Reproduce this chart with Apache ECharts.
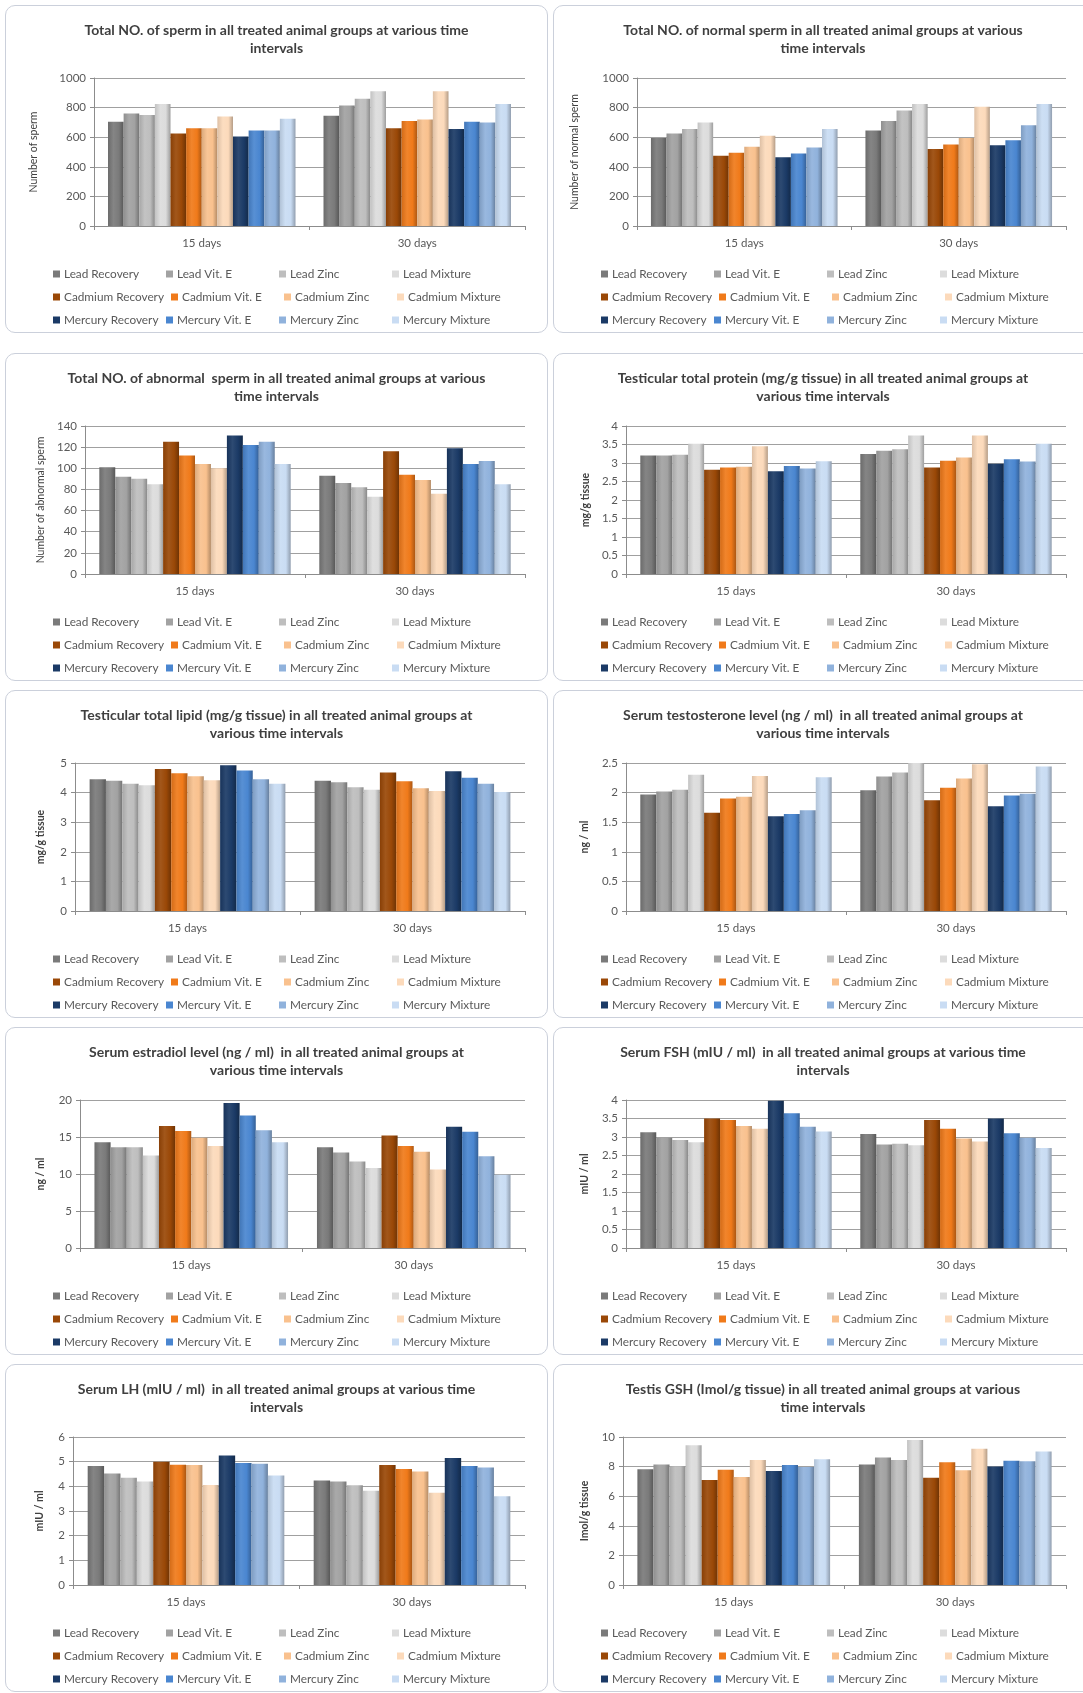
<!DOCTYPE html>
<html>
<head>
<meta charset="utf-8">
<script src="https://cdn.jsdelivr.net/npm/echarts@6/dist/echarts.min.js"></script>
<style>
  html, body { margin: 0; padding: 0; background: #fff; width: 1083px; height: 1693px; overflow: hidden; position: relative; }
  .panel { position: absolute; box-sizing: border-box; border: 1px solid #cbd0db; border-radius: 10px; background: #fff; overflow: hidden; }
  .chart { position: absolute; left: 0; top: 0; width: 100%; height: 100%; }
</style>
</head>
<body>
<script>
// categories and groups
const categories = ['15 days', '30 days'];
const groupNames = [
  'Lead Recovery', 'Lead Vit. E', 'Lead Zinc', 'Lead Mixture',
  'Cadmium Recovery', 'Cadmium Vit. E', 'Cadmium Zinc', 'Cadmium Mixture',
  'Mercury Recovery', 'Mercury Vit. E', 'Mercury Zinc', 'Mercury Mixture'
];
const groupColors = [
  '#7a7a7a', '#a2a2a2', '#bebebe', '#dcdcdc',
  '#9a4807', '#f07a1a', '#f9c18e', '#fcdabb',
  '#1b3a66', '#4a86d0', '#90b2dc', '#c9dcf3'
];

// values, one entry per group, [15 days] and [30 days]
const totalSperm15 = [705, 760, 750, 825, 625, 660, 660, 740, 605, 645, 645, 725];
const totalSperm30 = [745, 815, 860, 910, 660, 710, 720, 910, 655, 705, 700, 825];
const normalSperm15 = [595, 625, 655, 700, 475, 495, 535, 610, 465, 490, 530, 655];
const normalSperm30 = [645, 710, 780, 825, 520, 550, 595, 805, 545, 580, 680, 825];
const abnormalSperm15 = [101, 92, 90, 85, 125, 112, 104, 100, 131, 122, 125, 104];
const abnormalSperm30 = [93, 86, 82, 73, 116, 94, 89, 76, 119, 104, 107, 85];
const protein15 = [3.2, 3.2, 3.22, 3.52, 2.82, 2.88, 2.9, 3.45, 2.78, 2.92, 2.85, 3.05];
const protein30 = [3.24, 3.33, 3.37, 3.74, 2.88, 3.06, 3.15, 3.74, 2.98, 3.1, 3.04, 3.52];
const lipid15 = [4.45, 4.4, 4.3, 4.25, 4.8, 4.65, 4.55, 4.42, 4.92, 4.75, 4.45, 4.3];
const lipid30 = [4.4, 4.35, 4.18, 4.1, 4.68, 4.38, 4.15, 4.05, 4.72, 4.5, 4.3, 4.02];
const testosterone15 = [1.97, 2.02, 2.05, 2.3, 1.66, 1.9, 1.93, 2.28, 1.6, 1.64, 1.7, 2.26];
const testosterone30 = [2.04, 2.27, 2.34, 2.5, 1.87, 2.08, 2.24, 2.48, 1.77, 1.95, 1.98, 2.44];
const estradiol15 = [14.3, 13.6, 13.6, 12.5, 16.5, 15.8, 14.9, 13.8, 19.6, 17.9, 15.9, 14.3];
const estradiol30 = [13.6, 12.9, 11.7, 10.8, 15.2, 13.8, 13.0, 10.6, 16.4, 15.7, 12.4, 9.9];
const fsh15 = [3.13, 2.98, 2.92, 2.86, 3.5, 3.46, 3.3, 3.22, 3.98, 3.64, 3.28, 3.15];
const fsh30 = [3.08, 2.8, 2.82, 2.78, 3.46, 3.22, 2.96, 2.88, 3.5, 3.1, 2.98, 2.7];
const lh15 = [4.82, 4.52, 4.35, 4.2, 5.0, 4.88, 4.86, 4.05, 5.25, 4.95, 4.92, 4.44];
const lh30 = [4.24, 4.2, 4.04, 3.82, 4.86, 4.7, 4.6, 3.74, 5.15, 4.82, 4.76, 3.6];
const gsh15 = [7.82, 8.15, 8.02, 9.45, 7.1, 7.78, 7.3, 8.45, 7.7, 8.1, 7.98, 8.5];
const gsh30 = [8.14, 8.62, 8.45, 9.8, 7.25, 8.3, 7.75, 9.2, 8.0, 8.4, 8.36, 9.02];

// panel setup (layout only)
const colLeft = [5, 553];
const colWidth = [543, 540];
const rowTop = [5, 353, 690, 1027, 1364];
const panelHeight = 328;

const panels = [
  { title: 'Total NO. of sperm in all treated animal groups at various time\nintervals', yName: 'Number of sperm', bold: false, max: 1000, interval: 200, d15: totalSperm15, d30: totalSperm30, gridLeft: 88, nameGap: 55 },
  { title: 'Total NO. of normal sperm in all treated animal groups at various\ntime intervals', yName: 'Number of normal sperm', bold: false, max: 1000, interval: 200, d15: normalSperm15, d30: normalSperm30, gridLeft: 83, nameGap: 57 },
  { title: 'Total NO. of abnormal  sperm in all treated animal groups at various\ntime intervals', yName: 'Number of abnormal sperm', bold: false, max: 140, interval: 20, d15: abnormalSperm15, d30: abnormalSperm30, gridLeft: 79, nameGap: 38 },
  { title: 'Testicular total protein (mg/g tissue) in all treated animal groups at\nvarious time intervals', yName: 'mg/g tissue', bold: true, max: 4, interval: 0.5, d15: protein15, d30: protein30, gridLeft: 72, nameGap: 34 },
  { title: 'Testicular total lipid (mg/g tissue) in all treated animal groups at\nvarious time intervals', yName: 'mg/g tissue', bold: true, max: 5, interval: 1, d15: lipid15, d30: lipid30, gridLeft: 69, nameGap: 29 },
  { title: 'Serum testosterone level (ng / ml)  in all treated animal groups at\nvarious time intervals', yName: 'ng / ml', bold: true, max: 2.5, interval: 0.5, d15: testosterone15, d30: testosterone30, gridLeft: 72, nameGap: 36 },
  { title: 'Serum estradiol level (ng / ml)  in all treated animal groups at\nvarious time intervals', yName: 'ng / ml', bold: true, max: 20, interval: 5, d15: estradiol15, d30: estradiol30, gridLeft: 74, nameGap: 34 },
  { title: 'Serum FSH (mIU / ml)  in all treated animal groups at various time\nintervals', yName: 'mIU / ml', bold: true, max: 4, interval: 0.5, d15: fsh15, d30: fsh30, gridLeft: 72, nameGap: 36 },
  { title: 'Serum LH (mIU / ml)  in all treated animal groups at various time\nintervals', yName: 'mIU / ml', bold: true, max: 6, interval: 1, d15: lh15, d30: lh30, gridLeft: 67, nameGap: 28 },
  { title: 'Testis GSH (Imol/g tissue) in all treated animal groups at various\ntime intervals', yName: 'Imol/g tissue', bold: true, max: 10, interval: 2, d15: gsh15, d30: gsh30, gridLeft: 69, nameGap: 33 }
];

const FONT = 'Lato, "Open Sans", sans-serif';

function shade(hex, f) {
  const n = parseInt(hex.slice(1), 16);
  let r = (n >> 16) & 255, g = (n >> 8) & 255, b = n & 255;
  if (f < 1) { r *= f; g *= f; b *= f; }
  else { r += (255 - r) * (f - 1); g += (255 - g) * (f - 1); b += (255 - b) * (f - 1); }
  return 'rgb(' + Math.round(r) + ',' + Math.round(g) + ',' + Math.round(b) + ')';
}

// 3D-ish column look
function barFill(c) {
  return {
    type: 'linear', x: 0, y: 0, x2: 1, y2: 0,
    colorStops: [
      { offset: 0, color: shade(c, 0.88) },
      { offset: 0.35, color: shade(c, 1.08) },
      { offset: 0.7, color: c },
      { offset: 1, color: shade(c, 0.72) }
    ]
  };
}

panels.forEach(function (p, idx) {
  const col = idx % 2;
  const row = Math.floor(idx / 2);
  const box = document.createElement('div');
  box.className = 'panel';
  box.style.left = colLeft[col] + 'px';
  box.style.top = rowTop[row] + 'px';
  box.style.width = colWidth[col] + 'px';
  box.style.height = panelHeight + 'px';
  const el = document.createElement('div');
  el.className = 'chart';
  box.appendChild(el);
  document.body.appendChild(box);

  const myChart = echarts.init(el, null, { renderer: 'canvas' });
  myChart.setOption({
    animation: false,
    textStyle: { fontFamily: FONT },
    title: {
      text: p.title,
      left: 'center',
      top: 10,
      textStyle: { fontFamily: FONT, fontSize: 14, fontWeight: 'bold', color: '#3f3f3f', lineHeight: 18 }
    },
    legend: {
      left: 47,
      top: 260,
      width: 470,
      padding: 0,
      itemGap: 7,
      itemWidth: 7,
      itemHeight: 7,
      icon: 'rect',
      textStyle: { fontFamily: FONT, fontSize: 11.8, color: '#595959', width: 95, lineHeight: 16, padding: [0, 0, 0, -1] },
      data: groupNames.map(function (n, i) {
        return { name: n, itemStyle: { color: groupColors[i] } };
      })
    },
    grid: { left: p.gridLeft, right: col === 0 ? 22 : 26, top: 72, bottom: 106 },
    xAxis: {
      type: 'category',
      data: categories,
      axisLine: { show: true, lineStyle: { color: '#8c8c8c' } },
      axisTick: { show: true, length: 4, lineStyle: { color: '#8c8c8c' } },
      axisLabel: { fontFamily: FONT, fontSize: 11.5, color: '#595959', margin: 11 }
    },
    yAxis: {
      type: 'value',
      min: 0,
      max: p.max,
      interval: p.interval,
      name: p.yName,
      nameLocation: 'middle',
      nameGap: p.nameGap,
      nameTextStyle: { fontFamily: FONT, fontSize: 10.5, fontWeight: p.bold ? 'bold' : 'normal', color: '#404040' },
      axisLine: { show: true, lineStyle: { color: '#8c8c8c' } },
      axisTick: { show: true, length: 4, lineStyle: { color: '#8c8c8c' } },
      axisLabel: { fontFamily: FONT, fontSize: 11.5, color: '#595959', margin: 8, formatter: function (v) { return String(v); } },
      splitLine: { show: true, lineStyle: { color: '#a0a0a0', width: 1 } }
    },
    series: groupNames.map(function (n, i) {
      return {
        name: n,
        type: 'bar',
        barGap: '0%',
        barCategoryGap: '13%',
        data: [p.d15[i], p.d30[i]],
        itemStyle: { color: barFill(groupColors[i]) }
      };
    })
  });
});
</script>
</body>
</html>
